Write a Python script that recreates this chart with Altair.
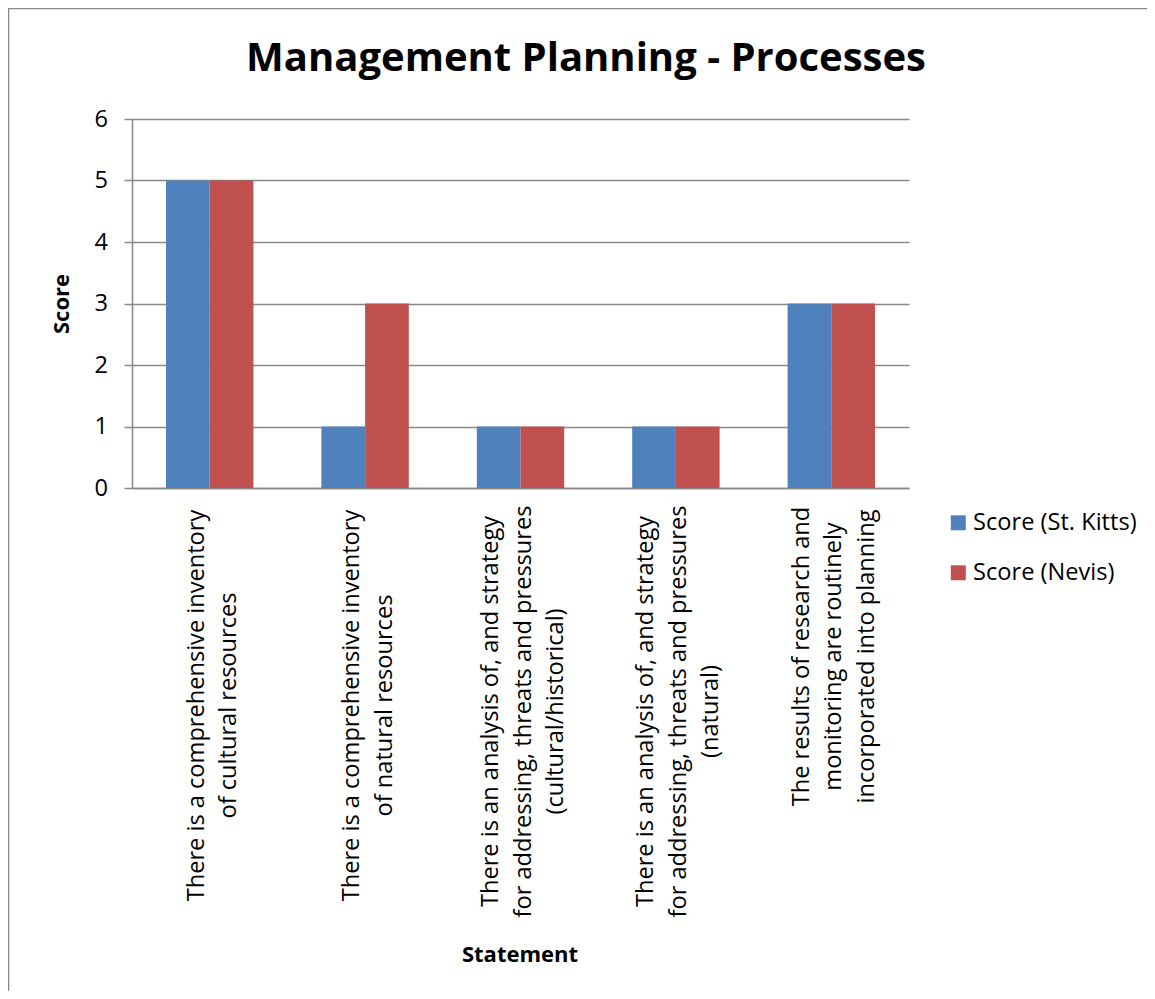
import altair as alt
import pandas as pd

# ---- data ----
categories = [
    "There is a comprehensive inventory\nof cultural resources",
    "There is a comprehensive inventory\nof natural resources",
    "There is an analysis of, and strategy\nfor addressing, threats and pressures\n(cultural/historical)",
    "There is an analysis of, and strategy\nfor addressing, threats and pressures\n(natural)",
    "The results of research and\nmonitoring are routinely\nincorporated into planning",
]
series = ["Score (St. Kitts)", "Score (Nevis)"]
st_kitts = [5, 1, 1, 1, 3]
nevis = [5, 3, 1, 1, 3]
y_ticks = [0, 1, 2, 3, 4, 5, 6]
colors = ["#4F81BD", "#C0504D"]

rows = []
for name, vals in zip(series, [st_kitts, nevis]):
    for cat, v in zip(categories, vals):
        rows.append({"Statement": cat, "Series": name, "Score": v})
df = pd.DataFrame(rows)

FONT = "Open Sans"
GRAY = "#888888"
FS = 23.6

# distance of each rotated label's centre below the axis
label_pad = {
    "condition": [
        {"test": "indexof(datum.value, 'The results') == 0", "value": 168},
        {"test": "indexof(datum.value, 'There is an analysis') == 0", "value": 223},
    ],
    "value": 217,
}
# centre the multi-line blocks on their category
label_off = {
    "condition": [
        {"test": "indexof(datum.value, 'There is a comprehensive') == 0", "value": -13},
    ],
    "value": -29.5,
}

bars = alt.Chart(df).mark_bar().encode(
    x=alt.X(
        "Statement:N",
        sort=categories,
        scale=alt.Scale(paddingInner=0.4375, paddingOuter=0.21875),
        axis=alt.Axis(
            title="Statement",
            labelAngle=270,
            labelAlign="center",
            labelBaseline="middle",
            labelExpr="split(datum.label, '\\n')",
            labelFont=FONT,
            labelFontSize=FS,
            labelLineHeight=32.5,
            labelColor="black",
            labelPadding=label_pad,
            labelOffset=label_off,
            labelLimit=0,
            labelOverlap=False,
            ticks=False,
            tickSize=0,
            domainColor=GRAY,
            domainWidth=1.5,
            grid=False,
            titleFont=FONT,
            titleFontSize=22,
            titleFontWeight="bold",
            titleColor="black",
            titleX=387.5,
            titleY=473,
            titleBaseline="alphabetic",
            titleAlign="center",
        ),
    ),
    xOffset=alt.XOffset("Series:N", sort=series, scale=alt.Scale(paddingInner=0, paddingOuter=0)),
    y=alt.Y(
        "Score:Q",
        scale=alt.Scale(domain=[0, 6], nice=False),
        axis=alt.Axis(
            title="Score",
            values=y_ticks,
            tickSize=8,
            tickColor=GRAY,
            tickWidth=1.5,
            domainColor=GRAY,
            domainWidth=1.5,
            gridColor=GRAY,
            gridWidth=1.5,
            labelFont=FONT,
            labelFontSize=FS,
            labelColor="black",
            labelPadding=16.5,
            titleFont=FONT,
            titleFontSize=22,
            titleFontWeight="bold",
            titleColor="black",
            titleAngle=270,
            titleX=-64,
            titleY=184.5,
            titleBaseline="alphabetic",
            titleAlign="center",
        ),
    ),
    color=alt.Color(
        "Series:N",
        sort=series,
        scale=alt.Scale(domain=series, range=colors),
        legend=alt.Legend(
            title=None,
            orient="none",
            legendX=814.5,
            legendY=392,
            symbolType="square",
            symbolSize=225,
            symbolStrokeWidth=0,
            labelFont=FONT,
            labelFontSize=FS,
            labelColor="black",
            labelOffset=3,
            labelLimit=0,
            rowPadding=25,
            padding=0,
        ),
    ),
)

frame = alt.Data(values=[{"f": 1}])
frame_left = alt.Chart(frame).mark_rule(color=GRAY, strokeWidth=1.5).encode(
    x=alt.value(-123.5), y=alt.value(-111), y2=alt.value(1000)
)
frame_top = alt.Chart(frame).mark_rule(color=GRAY, strokeWidth=1.5).encode(
    x=alt.value(-124), x2=alt.value(1100), y=alt.value(-110.5)
)

chart = alt.layer(frame_left, frame_top, bars).properties(
    width=777,
    height=369,
    title=alt.TitleParams(
        text="Management Planning - Processes",
        font=FONT,
        fontSize=40,
        fontWeight="bold",
        color="black",
        anchor="middle",
        dx=65.5,
        baseline="alphabetic",
        offset=-103.75,
    ),
    padding={"left": 124, "top": 111, "right": 238, "bottom": 503},
    autosize=alt.AutoSizeParams(type="none"),
    background="white",
).configure_view(stroke=None)

chart.save("out.html", embed_options={"renderer": "svg", "actions": False})
